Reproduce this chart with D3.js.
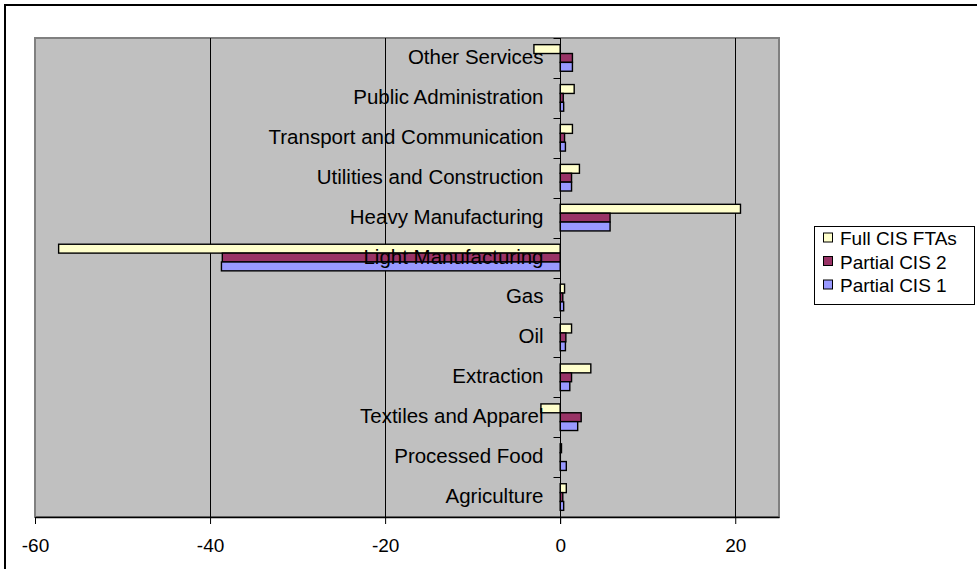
<!DOCTYPE html>
<html><head><meta charset="utf-8">
<script src="https://cdn.jsdelivr.net/npm/d3@7"></script>
<style>body{margin:0;background:#fff}svg{display:block}text{font-family:"Liberation Sans",Arial,sans-serif}</style>
</head><body><svg id="c" width="977" height="569"></svg>
<script>
const categories = ["Agriculture","Processed Food","Textiles and Apparel","Extraction","Oil","Gas","Light Manufacturing","Heavy Manufacturing","Utilities and Construction","Transport and Communication","Public Administration","Other Services"];
const seriesNames = ["Full CIS FTAs","Partial CIS 2","Partial CIS 1"];
const fullCIS = [0.7, 0.15, -2.2, 3.5, 1.3, 0.5, -57.3, 20.6, 2.2, 1.4, 1.6, -3.0];
const partial2 = [0.3, 0.02, 2.4, 1.3, 0.65, 0.3, -38.6, 5.7, 1.3, 0.5, 0.35, 1.4];
const partial1 = [0.4, 0.7, 2.0, 1.1, 0.6, 0.4, -38.7, 5.7, 1.3, 0.6, 0.4, 1.4];
const xTicks = [-60, -40, -20, 0, 20];
const colors = ["#FFFFCC", "#993366", "#9999FF"];

const svg = d3.select("#c");
const values = [fullCIS, partial2, partial1];
const L = 35, R = 779, T = 38, B = 517;

svg.append("rect").attr("x",5).attr("y",5).attr("width",990).attr("height",600)
  .attr("fill","none").attr("stroke","#000").attr("stroke-width",2);

const x = d3.scaleLinear().domain([-60, 25]).range([L, R]);
const y = d3.scaleBand().domain(categories.slice().reverse()).range([T, B]);
const ys = d3.scaleBand().domain(seriesNames).range([0, y.bandwidth()]).paddingOuter(0.75);

svg.append("rect").attr("x",L).attr("y",T).attr("width",R-L).attr("height",B-T)
  .attr("fill","#C0C0C0").attr("stroke","#808080").attr("stroke-width",2);

// gridlines
svg.append("g").selectAll("line").data(xTicks.filter(t=>t!==-60 && t!==0)).join("line")
  .attr("x1",d=>Math.round(x(d))+0.5).attr("x2",d=>Math.round(x(d))+0.5)
  .attr("y1",T).attr("y2",B).attr("stroke","#000").attr("stroke-width",1);

// bars
const g = svg.append("g");
categories.forEach((c,i)=>{
  seriesNames.forEach((s,j)=>{
    const v = values[j][i];
    g.append("rect")
      .attr("x", x(Math.min(0,v)))
      .attr("y", y(c)+ys(s))
      .attr("width", Math.abs(x(v)-x(0)))
      .attr("height", ys.bandwidth())
      .attr("fill", colors[j]).attr("stroke","#000").attr("stroke-width",1.4);
  });
});

// bottom axis
const xAxis = d3.axisBottom(x).tickValues(xTicks).tickFormat(d=>String(d)).tickSizeInner(7).tickSizeOuter(0).tickPadding(15);
const xg = svg.append("g").attr("transform",`translate(0,${B})`).call(xAxis);
xg.select(".domain").attr("stroke","#000").attr("stroke-width",1.5);
xg.selectAll(".tick line").attr("stroke","#000");
xg.selectAll("text").attr("font-size",19).attr("fill","#000").attr("font-family","Liberation Sans, Arial, sans-serif");

// category axis at zero
const x0 = Math.round(x(0))+0.5;
svg.append("line").attr("x1",x0).attr("x2",x0).attr("y1",T).attr("y2",B+7).attr("stroke","#000");
const edges = categories.map(c=>y(c));
svg.append("g").selectAll("line").data(edges).join("line")
  .attr("x1",x0-7).attr("x2",x0).attr("y1",d=>Math.round(d)+0.5).attr("y2",d=>Math.round(d)+0.5).attr("stroke","#000");
svg.append("g").selectAll("text").data(categories).join("text")
  .attr("x", x0-17).attr("y", d=>y(d)+y.bandwidth()/2+6)
  .attr("text-anchor","end").attr("font-size",20.5).attr("fill","#000").text(d=>d);

// legend
const lg = svg.append("g");
lg.append("rect").attr("x",814.5).attr("y",226.5).attr("width",160).attr("height",78)
  .attr("fill","#fff").attr("stroke","#000").attr("stroke-width",1);
seriesNames.forEach((s,j)=>{
  const cy = 238 + j*23.5;
  lg.append("rect").attr("x",823.5).attr("y",cy-5).attr("width",9).attr("height",9)
    .attr("fill",colors[j]).attr("stroke","#000");
  lg.append("text").attr("x",840).attr("y",cy+7).attr("font-size",19).attr("fill","#000").text(s);
});
</script></body></html>
